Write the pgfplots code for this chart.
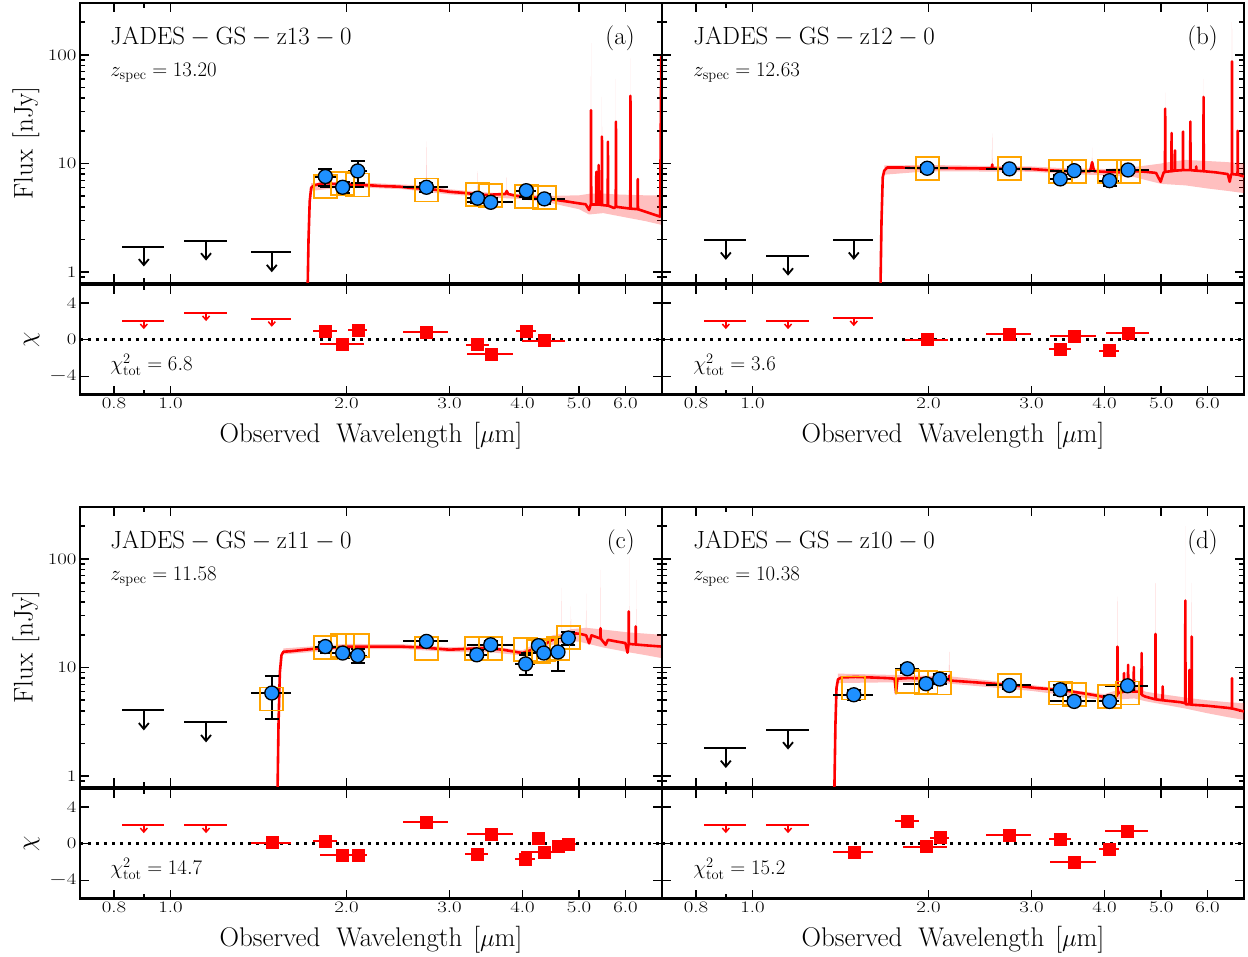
\documentclass[border=0pt]{standalone}
\usepackage{graphicx}
\usepackage{pgfplots}
\usepackage{pgfplotstable}
\pgfplotsset{compat=1.18}
\usetikzlibrary{arrows.meta}
\definecolor{dodger}{RGB}{30,144,255}
\definecolor{orangeC}{RGB}{255,165,0}
\newcommand{\tkl}[1]{\scalebox{1.3}[1]{\fontsize{16}{17}\selectfont #1}}
\newcommand{\xlab}{\fontsize{27}{30}\selectfont Observed\hspace{16pt}Wavelength\hspace{11pt}[$\mu$m]}
\newcommand{\ylab}{\fontsize{27}{30}\selectfont Flux\hspace{10pt}[nJy]}
\newcommand{\chilab}{\fontsize{27}{30}\selectfont $\chi$}

% ---------------- Panel (a) ----------------
\pgfplotstableread{
lam f ef hw mod chi
1.84 7.6 1.4 0.09 6.1 0.98
1.97 6.05 0.7 0.17 6.6 -0.47
2.09 8.55 1.9 0.075 6.35 1.09
2.74 6.05 0.6 0.245 5.7 0.8
3.35 4.8 0.5 0.15 5.2 -0.54
3.53 4.4 0.45 0.32 5.1 -1.56
4.06 5.63 0.7 0.16 4.95 0.98
4.36 4.73 0.5 0.37 4.85 -0.1
}\photA
\pgfplotstableread{
lam f hw chi
0.90 1.72 0.075 2.0
1.15 1.95 0.097 2.88
1.49 1.53 0.118 2.26
}\ulA
\pgfplotstableread{
lam f
1.700 0.4
1.716 0.7
1.722 2.0
1.730 4.5
1.740 6.0
1.760 6.3
1.800 6.5
1.850 6.6
1.900 6.5
2.000 6.45
2.100 6.35
2.200 6.3
2.300 6.2
2.460 6.13
2.600 5.95
2.800 5.8
3.000 5.5
3.200 5.35
3.420 5.13
3.600 5.2
3.740 5.25
3.760 5.6
3.780 5.25
3.900 5.05
4.000 4.96
4.300 4.8
4.560 4.63
4.800 4.45
5.000 4.3
5.130 4.22
5.200 3.74
5.230 4.15
5.236 4.2
5.240 31
5.244 4.2
5.346 4.2
5.350 8.4
5.354 4.2
5.396 4.2
5.400 9.7
5.404 4.2
5.466 4.15
5.470 17.7
5.474 4.15
5.596 4.1
5.600 15.9
5.604 4.1
5.740 3.9
5.776 4.0
5.780 24.3
5.784 4.0
6.000 3.9
6.116 3.85
6.120 42
6.124 3.85
6.296 3.8
6.300 7.2
6.304 3.8
6.600 3.5
6.880 3.25
6.910 96
6.930 3.24
}\modA
\pgfplotstableread{
lam f
1.740 6.6
2.000 6.8
2.500 6.4
2.736 6.3
2.740 16
2.744 6.3
3.000 5.8
3.346 5.5
3.350 8.5
3.354 5.5
3.500 5.4
3.756 5.35
3.760 7.5
3.764 5.3
4.000 5.25
4.500 5.05
5.000 5.1
5.236 5.3
5.240 128
5.244 5.3
5.466 5.3
5.470 41
5.474 5.3
5.776 5.2
5.780 60
5.784 5.2
6.116 5.15
6.120 93
6.124 5.15
6.500 5.1
6.906 5.1
6.910 300
6.930 5.13
6.930 2.72
6.500 2.95
6.000 3.2
5.500 3.5
5.200 3.4
5.000 3.8
4.500 4.3
4.000 4.7
3.500 4.9
3.000 5.2
2.500 5.8
2.000 6.1
1.740 5.6
}\bandA

% ---------------- Panel (b) ----------------
\pgfplotstableread{
lam f ef hw mod chi
1.99 9.05 0.6 0.17 9.05 0.0
2.75 8.93 0.6 0.245 8.93 0.62
3.36 7.22 0.6 0.15 8.4 -1.0
3.55 8.6 0.6 0.32 8.4 0.37
4.08 6.96 0.7 0.16 8.4 -1.2
4.39 8.73 0.6 0.37 8.4 0.73
}\photB
\pgfplotstableread{
lam f hw chi
0.90 1.98 0.075 2.0
1.15 1.42 0.097 2.0
1.49 1.98 0.118 2.33
}\ulB
\pgfplotstableread{
lam f
1.640 0.4
1.655 0.7
1.662 3
1.670 7.5
1.680 8.6
1.700 9.2
1.800 9.2
1.900 9.1
2.000 9.1
2.300 9.05
2.500 9.0
2.566 9.0
2.570 9.8
2.574 9.0
2.800 8.95
3.000 8.9
3.300 8.6
3.500 8.5
3.780 8.5
3.810 10.3
3.840 8.5
4.000 8.4
4.300 8.3
4.550 8.5
4.700 8.4
4.900 8.2
4.990 6.8
5.050 8.3
5.076 8.3
5.080 32
5.084 8.4
5.206 8.5
5.210 19.1
5.214 8.5
5.276 8.6
5.280 13.2
5.284 8.6
5.446 8.7
5.450 19.7
5.454 8.7
5.606 8.7
5.610 24.3
5.614 8.7
5.736 8.6
5.740 9.4
5.744 8.6
5.906 8.5
5.910 41
5.914 8.5
6.200 8.3
6.500 8.0
6.550 6.8
6.590 8.0
6.606 8.0
6.610 87
6.614 8.0
6.756 7.9
6.760 20
6.764 7.9
6.930 7.6
}\modB
\pgfplotstableread{
lam f
1.680 9.6
2.000 9.7
2.566 9.5
2.570 19
2.574 9.5
3.000 9.4
3.500 9.0
3.806 9.0
3.810 14
3.814 9.0
4.000 8.9
4.500 9.3
5.000 10.0
5.076 10.2
5.080 45
5.084 10.2
5.500 10.8
5.906 10.6
5.910 60
5.914 10.6
6.500 10.3
6.606 10.2
6.610 200
6.614 10.2
6.930 10.0
6.930 5.35
6.500 5.6
6.000 5.9
5.500 6.3
5.000 6.5
4.500 7.5
4.000 7.8
3.500 8.0
3.000 8.4
2.000 8.5
1.680 7.9
}\bandB

% ---------------- Panel (c) ----------------
\pgfplotstableread{
lam f ef hw mod chi
1.49 5.83 2.45 0.118 5.13 0.13
1.84 15.6 1.5 0.09 15.3 0.24
1.97 13.6 1.3 0.17 16.0 -1.22
2.09 12.9 1.8 0.075 16.0 -1.25
2.74 17.4 1.2 0.245 15.1 2.38
3.34 13.1 1.3 0.15 15.1 -1.15
3.53 16.2 1.3 0.32 15.1 1.04
4.05 10.8 2.3 0.16 14.6 -1.69
4.26 15.9 2.2 0.10 14.1 0.57
4.35 13.6 1.3 0.37 14.5 -0.9
4.60 13.9 4.7 0.11 14.9 -0.24
4.79 18.7 2.5 0.15 18.9 -0.05
}\photC
\pgfplotstableread{
lam f hw chi
0.90 4.03 0.075 2.0
1.15 3.13 0.097 2.0
}\ulC
\pgfplotstableread{
lam f
1.500 0.4
1.524 0.7
1.530 3
1.538 9
1.548 13
1.560 14.0
1.600 14.1
1.700 14.6
1.800 15.0
2.000 15.6
2.460 15.6
2.700 15.3
3.000 14.6
3.420 15.1
3.700 14.6
4.000 13.6
4.300 15.6
4.500 18.0
4.840 20.7
5.000 20.5
5.140 19.8
5.200 16.7
5.250 19.8
5.436 18.5
5.440 23
5.444 18.5
5.550 16.2
5.600 18.0
5.780 17.4
6.000 16.8
6.050 13.7
6.076 16.5
6.080 32.8
6.084 16.5
6.246 16.3
6.250 23.9
6.254 16.3
6.500 16.0
6.930 15.6
}\modC
\pgfplotstableread{
lam f
1.560 15.0
2.000 16.5
2.500 16.4
3.000 15.4
3.500 15.8
4.000 14.4
4.500 19.8
4.666 20.5
4.670 54
4.674 20.5
4.836 22.5
4.840 36.6
4.844 22.5
5.136 23.2
5.140 48
5.144 23.2
5.436 22.5
5.440 79
5.444 22.5
6.096 21.0
6.100 105
6.104 21.0
6.266 20.8
6.270 64
6.274 20.8
6.930 20.0
6.930 12.2
6.500 13.0
6.000 14.0
5.500 15.3
5.000 17.3
4.840 17.5
4.500 16.2
4.000 12.9
3.500 13.9
3.000 13.9
2.500 14.8
2.000 14.8
1.560 13.2
}\bandC

% ---------------- Panel (d) ----------------
\pgfplotstableread{
lam f ef hw mod chi
1.49 5.62 0.6 0.118 6.48 -0.96
1.84 9.75 0.9 0.09 7.44 2.49
1.98 7.1 0.6 0.17 7.3 -0.31
2.09 7.84 0.8 0.075 7.2 0.67
2.75 6.85 0.5 0.245 6.85 0.93
3.36 6.25 0.6 0.15 5.83 0.49
3.55 4.88 0.45 0.32 5.62 -1.98
4.08 4.88 0.6 0.16 5.43 -0.6
4.38 6.8 0.6 0.37 5.83 1.4
}\photD
\pgfplotstableread{
lam f hw chi
0.90 1.82 0.075 2.0
1.15 2.68 0.097 2.0
}\ulD
\pgfplotstableread{
lam f
1.360 0.4
1.380 0.7
1.386 3
1.392 6.5
1.400 7.8
1.420 8.1
1.500 8.2
1.600 8.1
1.700 8.0
1.750 7.9
1.760 5.8
1.770 7.9
1.850 8.0
2.000 7.9
2.080 7.8
2.166 7.7
2.170 8.4
2.174 7.6
2.500 7.2
2.750 6.93
3.060 6.47
3.360 6.25
3.600 5.9
3.810 5.62
4.080 5.24
4.200 5.5
4.206 5.6
4.210 15.6
4.214 5.8
4.316 6.0
4.320 8.9
4.324 6.0
4.386 6.1
4.390 10.6
4.394 6.1
4.486 6.0
4.490 10.1
4.494 6.0
4.580 6.0
4.626 5.7
4.630 13.6
4.634 5.6
4.700 5.4
4.886 5.1
4.890 20.4
4.894 5.1
5.026 5.0
5.030 6.7
5.034 5.0
5.400 4.8
5.496 4.7
5.500 41.4
5.504 4.6
5.586 4.6
5.590 9.5
5.594 4.6
5.636 4.55
5.640 19.3
5.644 4.55
6.000 4.45
6.540 4.24
6.606 4.2
6.610 8.0
6.614 4.2
6.930 3.95
}\modD
\pgfplotstableread{
lam f
1.400 8.8
2.000 8.4
2.166 8.3
2.170 14
2.174 8.3
3.000 6.9
4.000 5.7
4.206 6.2
4.210 45
4.214 6.2
4.500 6.8
4.700 6.0
4.886 5.8
4.890 60
4.894 5.8
5.496 5.3
5.500 200
5.504 5.3
5.636 5.2
5.640 60
5.644 5.2
6.000 5.0
6.500 4.8
6.930 4.7
6.930 3.3
6.500 3.5
6.000 3.8
5.500 4.2
4.700 4.9
4.500 5.2
4.000 5.0
3.000 6.1
2.000 7.4
1.400 7.2
}\bandD

\newcommand{\drawsed}[4]{%
  \addplot[fill=red, fill opacity=0.25, draw=none] table[x=lam,y=f]{#2};
  \addplot[red, line width=2.6pt, line join=round] table[x=lam,y=f]{#1};
  \addplot[only marks, mark=square, mark size=11.5pt, mark options={draw=orangeC, line width=1.8pt}] table[x=lam,y=mod]{#3};
  \addplot[only marks, mark=text, text mark={}, error bars/.cd, x dir=both, x explicit, error mark=none,
    error bar style={black, line width=2pt}] table[x=lam,y=f,x error=hw]{#3};
  \addplot[only marks, mark=text, text mark={}, error bars/.cd, y dir=both, y explicit,
    error mark options={black, line width=2pt, mark size=7pt, rotate=90},
    error bar style={black, line width=2pt}] table[x=lam,y=f,y error=ef]{#3};
  \addplot[only marks, mark=*, mark size=7pt, mark options={fill=dodger, draw=black, line width=1.3pt}] table[x=lam,y=f]{#3};
  \addplot[only marks, mark=text, text mark={}, error bars/.cd, x dir=both, x explicit, error mark=none,
    error bar style={black, line width=2pt}] table[x=lam,y=f,x error=hw]{#4};
}
\newcommand{\drawchi}[2]{%
  \addplot[black, line width=3pt, dash pattern=on 3pt off 5pt] coordinates {(0.7,0) (6.93,0)};
  \addplot[only marks, mark=text, text mark={}, error bars/.cd, x dir=both, x explicit, error mark=none,
    error bar style={red, line width=2pt}] table[x=lam,y=chi,x error=hw]{#2};
  \addplot[only marks, mark=square*, mark size=6pt, mark options={fill=red, draw=red}, error bars/.cd, x dir=both, x explicit, error mark=none,
    error bar style={red, line width=2pt}] table[x=lam,y=chi,x error=hw]{#1};
}

\begin{document}
\begin{tikzpicture}
\useasboundingbox (0pt,0pt) rectangle (1248pt,957pt);

% ===== (a) =====
\begin{axis}[at={(80pt,674.2pt)}, anchor=south west,
  scale only axis, width=582pt, height=279.8pt,
  xmode=log, ymode=log, xmin=0.7, xmax=6.93, ymin=0.8, ymax=300,
  axis line style={line width=2.4pt}, tick align=inside,
  tick style={black, line width=1.6pt}, major tick length=9pt, minor tick length=5pt,
  xtick={0.8,1,2,3,4,5,6}, minor xtick={0.9}, xticklabels={},
  ytick={1,10,100}, minor ytick={0.8,0.9,2,3,4,5,6,7,8,9,20,30,40,50,60,70,80,90,200,300},
  yticklabels={\tkl{1},\tkl{10},\tkl{100}},
  ylabel={\ylab},
  ylabel style={at={(axis description cs:-0.093,0.5)}, anchor=center}]
\drawsed{\modA}{\bandA}{\photA}{\ulA}
\addplot[black, line width=1.8pt, -{Straight Barb[length=6pt,width=10pt]}] coordinates {(0.90,1.72) (0.90,1.13)};
\addplot[black, line width=1.8pt, -{Straight Barb[length=6pt,width=10pt]}] coordinates {(1.15,1.95) (1.15,1.28)};
\addplot[black, line width=1.8pt, -{Straight Barb[length=6pt,width=10pt]}] coordinates {(1.49,1.53) (1.49,1.00)};
\node[anchor=west, font=\fontsize{27}{30}\selectfont] at (rel axis cs:0.046,0.878) {$\mathrm{JADES-GS-z13-0}$};
\node[anchor=west, font=\fontsize{21}{24}\selectfont] at (rel axis cs:0.046,0.75) {$z_{\mathrm{spec}}=13.20$};
\node[anchor=east, font=\fontsize{25}{28}\selectfont] at (rel axis cs:0.959,0.875) {(a)};
\end{axis}
\begin{axis}[at={(80pt,562.3pt)}, anchor=south west,
  scale only axis, width=582pt, height=110pt,
  xmode=log, xmin=0.7, xmax=6.93, ymin=-6, ymax=6,
  axis line style={line width=2.4pt}, tick align=inside,
  tick style={black, line width=1.6pt}, major tick length=9pt, minor tick length=5pt,
  xtick={0.8,1,2,3,4,5,6}, minor xtick={0.9},
  xticklabels={\tkl{0.8},\tkl{1.0},\tkl{2.0},\tkl{3.0},\tkl{4.0},\tkl{5.0},\tkl{6.0}},
  ytick={-4,0,4}, yticklabels={\tkl{$-$4},\tkl{0},\tkl{4}},
  xlabel={\xlab},
  xlabel style={at={(axis description cs:0.5,-0.37)}, anchor=center},
  ylabel={\chilab},
  ylabel style={at={(axis description cs:-0.083,0.5)}, anchor=center}]
\drawchi{\photA}{\ulA}
\addplot[red, line width=1.5pt, -{Straight Barb[length=4pt,width=7pt]}] coordinates {(0.90,2.0) (0.90,1.15)};
\addplot[red, line width=1.5pt, -{Straight Barb[length=4pt,width=7pt]}] coordinates {(1.15,2.88) (1.15,2.03)};
\addplot[red, line width=1.5pt, -{Straight Barb[length=4pt,width=7pt]}] coordinates {(1.49,2.26) (1.49,1.41)};
\node[anchor=west, font=\fontsize{21}{24}\selectfont] at (rel axis cs:0.046,0.27) {$\chi^2_{\mathrm{tot}}=6.8$};
\end{axis}

% ===== (b) =====
\begin{axis}[at={(662pt,674.2pt)}, anchor=south west,
  scale only axis, width=582pt, height=279.8pt,
  xmode=log, ymode=log, xmin=0.7, xmax=6.93, ymin=0.8, ymax=300,
  axis line style={line width=2.4pt}, tick align=inside,
  tick style={black, line width=1.6pt}, major tick length=9pt, minor tick length=5pt,
  xtick={0.8,1,2,3,4,5,6}, minor xtick={0.9}, xticklabels={},
  ytick={1,10,100}, minor ytick={0.8,0.9,2,3,4,5,6,7,8,9,20,30,40,50,60,70,80,90,200,300},
  yticklabels={}]
\drawsed{\modB}{\bandB}{\photB}{\ulB}
\addplot[black, line width=1.8pt, -{Straight Barb[length=6pt,width=10pt]}] coordinates {(0.90,1.98) (0.90,1.30)};
\addplot[black, line width=1.8pt, -{Straight Barb[length=6pt,width=10pt]}] coordinates {(1.15,1.42) (1.15,0.93)};
\addplot[black, line width=1.8pt, -{Straight Barb[length=6pt,width=10pt]}] coordinates {(1.49,1.98) (1.49,1.30)};
\node[anchor=west, font=\fontsize{27}{30}\selectfont] at (rel axis cs:0.048,0.878) {$\mathrm{JADES-GS-z12-0}$};
\node[anchor=west, font=\fontsize{21}{24}\selectfont] at (rel axis cs:0.048,0.75) {$z_{\mathrm{spec}}=12.63$};
\node[anchor=east, font=\fontsize{25}{28}\selectfont] at (rel axis cs:0.961,0.875) {(b)};
\end{axis}
\begin{axis}[at={(662pt,562.3pt)}, anchor=south west,
  scale only axis, width=582pt, height=110pt,
  xmode=log, xmin=0.7, xmax=6.93, ymin=-6, ymax=6,
  axis line style={line width=2.4pt}, tick align=inside,
  tick style={black, line width=1.6pt}, major tick length=9pt, minor tick length=5pt,
  xtick={0.8,1,2,3,4,5,6}, minor xtick={0.9},
  xticklabels={\tkl{0.8},\tkl{1.0},\tkl{2.0},\tkl{3.0},\tkl{4.0},\tkl{5.0},\tkl{6.0}},
  ytick={-4,0,4}, yticklabels={},
  xlabel={\xlab},
  xlabel style={at={(axis description cs:0.5,-0.37)}, anchor=center}]
\drawchi{\photB}{\ulB}
\addplot[red, line width=1.5pt, -{Straight Barb[length=4pt,width=7pt]}] coordinates {(0.90,2.0) (0.90,1.15)};
\addplot[red, line width=1.5pt, -{Straight Barb[length=4pt,width=7pt]}] coordinates {(1.15,2.0) (1.15,1.15)};
\addplot[red, line width=1.5pt, -{Straight Barb[length=4pt,width=7pt]}] coordinates {(1.49,2.33) (1.49,1.48)};
\node[anchor=west, font=\fontsize{21}{24}\selectfont] at (rel axis cs:0.048,0.27) {$\chi^2_{\mathrm{tot}}=3.6$};
\end{axis}

% ===== (c) =====
\begin{axis}[at={(80pt,170.2pt)}, anchor=south west,
  scale only axis, width=582pt, height=279.8pt,
  xmode=log, ymode=log, xmin=0.7, xmax=6.93, ymin=0.8, ymax=300,
  axis line style={line width=2.4pt}, tick align=inside,
  tick style={black, line width=1.6pt}, major tick length=9pt, minor tick length=5pt,
  xtick={0.8,1,2,3,4,5,6}, minor xtick={0.9}, xticklabels={},
  ytick={1,10,100}, minor ytick={0.8,0.9,2,3,4,5,6,7,8,9,20,30,40,50,60,70,80,90,200,300},
  yticklabels={\tkl{1},\tkl{10},\tkl{100}},
  ylabel={\ylab},
  ylabel style={at={(axis description cs:-0.093,0.5)}, anchor=center}]
\drawsed{\modC}{\bandC}{\photC}{\ulC}
\addplot[black, line width=1.8pt, -{Straight Barb[length=6pt,width=10pt]}] coordinates {(0.90,4.03) (0.90,2.64)};
\addplot[black, line width=1.8pt, -{Straight Barb[length=6pt,width=10pt]}] coordinates {(1.15,3.13) (1.15,2.05)};
\node[anchor=west, font=\fontsize{27}{30}\selectfont] at (rel axis cs:0.046,0.878) {$\mathrm{JADES-GS-z11-0}$};
\node[anchor=west, font=\fontsize{21}{24}\selectfont] at (rel axis cs:0.046,0.75) {$z_{\mathrm{spec}}=11.58$};
\node[anchor=east, font=\fontsize{25}{28}\selectfont] at (rel axis cs:0.959,0.875) {(c)};
\end{axis}
\begin{axis}[at={(80pt,58.3pt)}, anchor=south west,
  scale only axis, width=582pt, height=110pt,
  xmode=log, xmin=0.7, xmax=6.93, ymin=-6, ymax=6,
  axis line style={line width=2.4pt}, tick align=inside,
  tick style={black, line width=1.6pt}, major tick length=9pt, minor tick length=5pt,
  xtick={0.8,1,2,3,4,5,6}, minor xtick={0.9},
  xticklabels={\tkl{0.8},\tkl{1.0},\tkl{2.0},\tkl{3.0},\tkl{4.0},\tkl{5.0},\tkl{6.0}},
  ytick={-4,0,4}, yticklabels={\tkl{$-$4},\tkl{0},\tkl{4}},
  xlabel={\xlab},
  xlabel style={at={(axis description cs:0.5,-0.37)}, anchor=center},
  ylabel={\chilab},
  ylabel style={at={(axis description cs:-0.083,0.5)}, anchor=center}]
\drawchi{\photC}{\ulC}
\addplot[red, line width=1.5pt, -{Straight Barb[length=4pt,width=7pt]}] coordinates {(0.90,2.0) (0.90,1.15)};
\addplot[red, line width=1.5pt, -{Straight Barb[length=4pt,width=7pt]}] coordinates {(1.15,2.0) (1.15,1.15)};
\node[anchor=west, font=\fontsize{21}{24}\selectfont] at (rel axis cs:0.046,0.27) {$\chi^2_{\mathrm{tot}}=14.7$};
\end{axis}

% ===== (d) =====
\begin{axis}[at={(662pt,170.2pt)}, anchor=south west,
  scale only axis, width=582pt, height=279.8pt,
  xmode=log, ymode=log, xmin=0.7, xmax=6.93, ymin=0.8, ymax=300,
  axis line style={line width=2.4pt}, tick align=inside,
  tick style={black, line width=1.6pt}, major tick length=9pt, minor tick length=5pt,
  xtick={0.8,1,2,3,4,5,6}, minor xtick={0.9}, xticklabels={},
  ytick={1,10,100}, minor ytick={0.8,0.9,2,3,4,5,6,7,8,9,20,30,40,50,60,70,80,90,200,300},
  yticklabels={}]
\drawsed{\modD}{\bandD}{\photD}{\ulD}
\addplot[black, line width=1.8pt, -{Straight Barb[length=6pt,width=10pt]}] coordinates {(0.90,1.82) (0.90,1.19)};
\addplot[black, line width=1.8pt, -{Straight Barb[length=6pt,width=10pt]}] coordinates {(1.15,2.68) (1.15,1.76)};
\node[anchor=west, font=\fontsize{27}{30}\selectfont] at (rel axis cs:0.048,0.878) {$\mathrm{JADES-GS-z10-0}$};
\node[anchor=west, font=\fontsize{21}{24}\selectfont] at (rel axis cs:0.048,0.75) {$z_{\mathrm{spec}}=10.38$};
\node[anchor=east, font=\fontsize{25}{28}\selectfont] at (rel axis cs:0.961,0.875) {(d)};
\end{axis}
\begin{axis}[at={(662pt,58.3pt)}, anchor=south west,
  scale only axis, width=582pt, height=110pt,
  xmode=log, xmin=0.7, xmax=6.93, ymin=-6, ymax=6,
  axis line style={line width=2.4pt}, tick align=inside,
  tick style={black, line width=1.6pt}, major tick length=9pt, minor tick length=5pt,
  xtick={0.8,1,2,3,4,5,6}, minor xtick={0.9},
  xticklabels={\tkl{0.8},\tkl{1.0},\tkl{2.0},\tkl{3.0},\tkl{4.0},\tkl{5.0},\tkl{6.0}},
  ytick={-4,0,4}, yticklabels={},
  xlabel={\xlab},
  xlabel style={at={(axis description cs:0.5,-0.37)}, anchor=center}]
\drawchi{\photD}{\ulD}
\addplot[red, line width=1.5pt, -{Straight Barb[length=4pt,width=7pt]}] coordinates {(0.90,2.0) (0.90,1.15)};
\addplot[red, line width=1.5pt, -{Straight Barb[length=4pt,width=7pt]}] coordinates {(1.15,2.0) (1.15,1.15)};
\node[anchor=west, font=\fontsize{21}{24}\selectfont] at (rel axis cs:0.048,0.27) {$\chi^2_{\mathrm{tot}}=15.2$};
\end{axis}
\end{tikzpicture}
\end{document}
